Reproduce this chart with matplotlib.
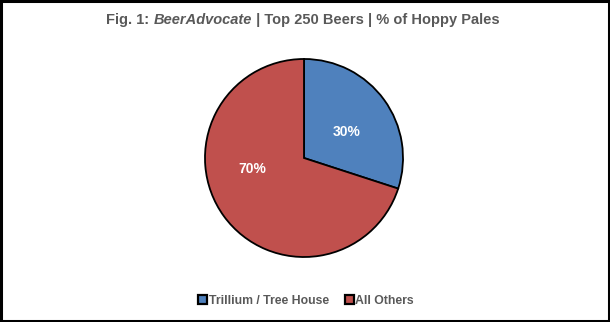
import matplotlib
matplotlib.use("Agg")
import matplotlib.pyplot as plt
from matplotlib.patches import Rectangle

labels = ["Trillium / Tree House", "All Others"]
values = [30, 70]
colors = ["#4F81BD", "#C0504D"]
title_parts = [("Fig. 1: ", "normal"), ("BeerAdvocate", "italic"), (" | Top 250 Beers | % of Hoppy Pales", "normal")]

plt.rcParams['font.family'] = ['Liberation Sans', 'DejaVu Sans']

fig = plt.figure(figsize=(6.10, 3.22), dpi=100)
fig.patch.set_facecolor("white")
fig.add_artist(Rectangle((0.0015, 0.003), 0.997, 0.994, transform=fig.transFigure,
                         fill=False, edgecolor="black", linewidth=2.2))

# pie axes: center (304,158) radius 100 px
cx, cy, r = 304, 158, 100
W, H = 610, 322
ax = fig.add_axes([(cx - r) / W, 1 - (cy + r) / H, 2 * r / W, 2 * r / H])
wedges, texts, autotexts = ax.pie(
    values, colors=colors, startangle=90, counterclock=False,
    autopct=lambda p: f"{p:.0f}%", pctdistance=0.53,
    wedgeprops=dict(edgecolor="black", linewidth=1.3),
    textprops=dict(color="white", fontsize=10, fontweight="bold"))
ax.set_aspect("equal")
ax.set_xlim(-1.01, 1.01)
ax.set_ylim(-1.01, 1.01)
# label placement as in the reference (Excel-style)
autotexts[0].set_position((0.43, 0.26))
autotexts[1].set_position((-0.52, -0.11))

# title in pieces
fs = 10.5
renderer = fig.canvas.get_renderer()
ts = []
for s, style in title_parts:
    t = fig.text(0, 0, s, fontsize=fs, fontweight="bold", style=style, color="#595959",
                 ha="left", va="baseline")
    ts.append(t)
widths = [t.get_window_extent(renderer).width for t in ts]
total = sum(widths)
x0 = 303 - total / 2
ybase = 1 - 24 / H
for t, w in zip(ts, widths):
    t.set_position((x0 / W, ybase))
    x0 += w

leg = fig.legend(wedges, labels, loc="center", bbox_to_anchor=(306 / W, 1 - 300.5 / H),
                 ncol=2, frameon=False, fontsize=8.8,
                 handlelength=0.75, handleheight=0.75, handletextpad=0.1, columnspacing=1.3)
for txt in leg.get_texts():
    txt.set_color("#595959")
    txt.set_fontweight("bold")
for h in leg.legend_handles:
    h.set_linewidth(1.6)

fig.savefig("out.png", dpi=100)
